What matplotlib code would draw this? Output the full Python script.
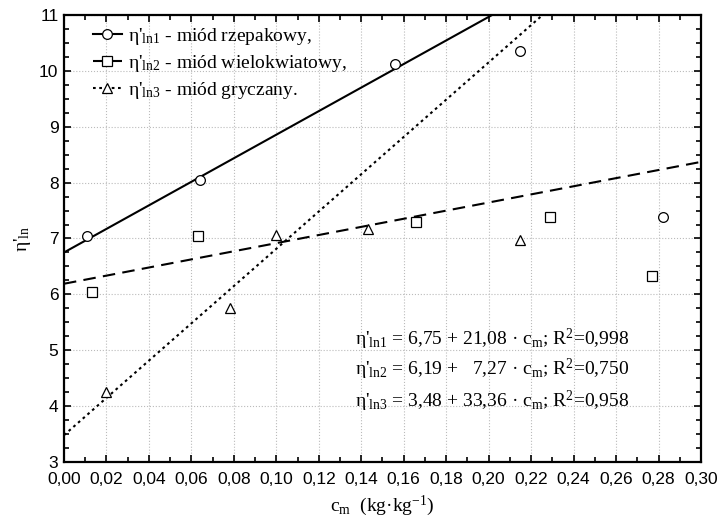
import numpy as np
import matplotlib
matplotlib.use('Agg')
import matplotlib.pyplot as plt
from matplotlib.ticker import MultipleLocator, FuncFormatter

plt.rcParams['mathtext.fontset'] = 'custom'
plt.rcParams['mathtext.rm'] = 'Liberation Serif'
plt.rcParams['mathtext.it'] = 'Liberation Serif'

# measured points
c1 = [0.011, 0.064, 0.156, 0.215, 0.282]
eta1 = [7.05, 8.05, 10.12, 10.36, 7.38]
c2 = [0.013, 0.063, 0.166, 0.229, 0.277]
eta2 = [6.05, 7.04, 7.29, 7.39, 6.33]
c3 = [0.020, 0.078, 0.100, 0.143, 0.215]
eta3 = [4.25, 5.76, 7.07, 7.17, 6.98]

# regression coefficients (a + b*c)
a = [6.75, 6.19, 3.48]
b = [21.08, 7.27, 33.36]
r2 = ['0,998', '0,750', '0,958']
names = ['miód rzepakowy,', 'miód wielokwiatowy,', 'miód gryczany.']
markers = ['o', 's', '^']
styles = ['-', (0, (6, 3.5)), (0, (1.3, 1.7))]

fig = plt.figure(figsize=(7.18, 5.28), dpi=100)
ax = fig.add_axes([0.0891, 0.125, 0.8872, 0.8466])

serif = 'Liberation Serif'
fs = 14
xx = np.array([0.0, 0.30])
pts = [(c1, eta1), (c2, eta2), (c3, eta3)]
for i in range(3):
    ax.plot(xx, a[i] + b[i] * xx, color='black', lw=1.5, ls=styles[i])
    ax.plot(pts[i][0], pts[i][1], ls='none', marker=markers[i], ms=7,
            mfc='white', mec='black', mew=0.9)

# legend handles
handles = []
for i in range(3):
    h, = ax.plot([], [], color='black', lw=1.5, ls=styles[i], marker=markers[i],
                 ms=7, mfc='white', mec='black', mew=0.9)
    handles.append(h)
labels = ["η'$_{\\mathrm{ln%d}}$ - %s" % (i + 1, names[i]) for i in range(3)]
ax.legend(handles, labels, loc='upper left', bbox_to_anchor=(0.045, 0.975),
          frameon=False, prop={'family': serif, 'size': fs},
          handlelength=1.5, handletextpad=0.3, labelspacing=0.3,
          borderaxespad=0, borderpad=0)

# equations
eq_y = [5.19, 4.65, 4.08]
for i in range(3):
    bs = '%5.2f' % b[i]
    bs = bs.replace('.', ',').replace(' ', '\u2007')
    txt = ("η'$_{\\mathrm{ln%d}}$ = %s + %s · c$_{\\mathrm{m}}$; R$^{\\mathrm{2}}$=%s"
           % (i + 1, ('%.2f' % a[i]).replace('.', ','), bs, r2[i]))
    ax.text(0.137, eq_y[i], txt, family=serif, fontsize=fs, va='center', ha='left')

ax.set_xlim(0, 0.30)
ax.set_ylim(3, 11)
ax.xaxis.set_major_locator(MultipleLocator(0.02))
ax.xaxis.set_minor_locator(MultipleLocator(0.01))
ax.yaxis.set_major_locator(MultipleLocator(1))
ax.yaxis.set_minor_locator(MultipleLocator(0.25))
ax.xaxis.set_major_formatter(FuncFormatter(lambda v, p: ('%.2f' % v).replace('.', ',')))
ax.yaxis.set_major_formatter(FuncFormatter(lambda v, p: '%d' % round(v)))
ax.tick_params(which='both', direction='in', top=True, right=True, width=1.2)
ax.tick_params(which='major', length=5, labelsize=12.5)
ax.tick_params(axis='x', which='major', pad=7)
ax.tick_params(axis='y', which='major', pad=4)
ax.tick_params(which='minor', length=3.5)
for lab in ax.get_xticklabels() + ax.get_yticklabels():
    lab.set_family('Liberation Sans')
for s in ax.spines.values():
    s.set_linewidth(1.6)
ax.grid(True, which='major', color='#bbbbbb', ls=':', lw=0.8)

ax.set_xlabel("c$_{\\mathrm{m}}$  (kg·kg$^{\\mathrm{-1}}$)", family=serif, fontsize=fs, labelpad=5)
ax.set_ylabel("η'$_{\\mathrm{ln}}$", family=serif, fontsize=fs, labelpad=4)

fig.savefig('out.png', dpi=100)
